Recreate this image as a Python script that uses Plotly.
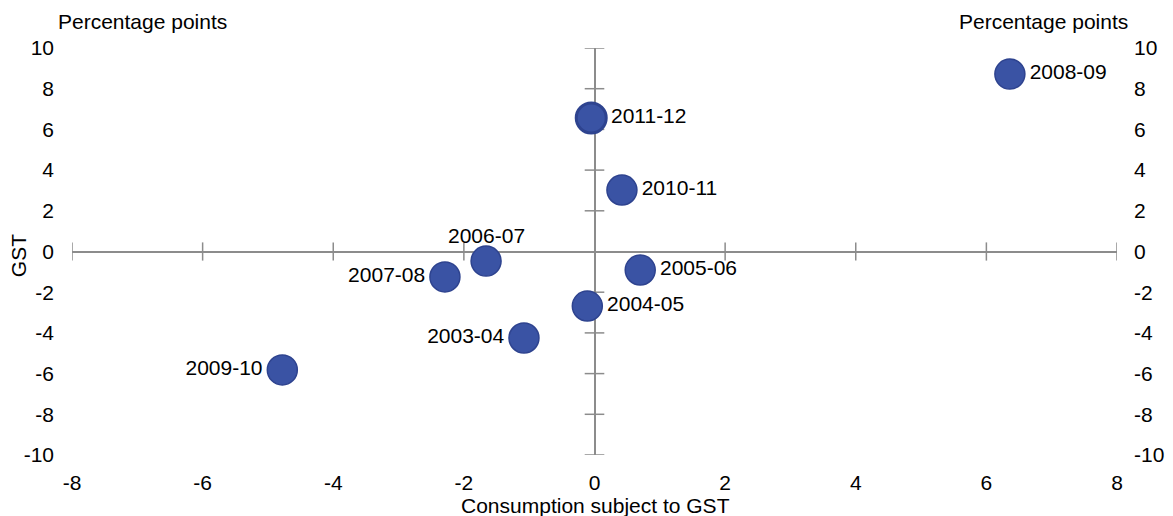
import plotly.graph_objects as go

years = ["2003-04", "2004-05", "2005-06", "2006-07", "2007-08", "2008-09", "2009-10", "2010-11", "2011-12"]
consumption = [-1.08, -0.11, 0.70, -1.66, -2.29, 6.36, -4.78, 0.42, -0.05]
gst = [-4.25, -2.68, -0.91, -0.47, -1.25, 8.72, -5.82, 3.02, 6.56]
label_pos = ["middle left", "middle right", "middle right", "top center", "middle left",
             "middle right", "middle left", "middle right", "middle right"]

x_ticks = [-8, -6, -4, -2, 0, 2, 4, 6, 8]
x_labels = ["-8", "-6", "-4", "-2", "0", "2", "4", "6", "8"]
y_ticks = [-10, -8, -6, -4, -2, 0, 2, 4, 6, 8, 10]
y_labels = ["-10", "-8", "-6", "-4", "-2", "0", "2", "4", "6", "8", "10"]

FONT = "Liberation Sans, Arial, sans-serif"
FS = 21
AXIS_COL = "#8c8c8c"

fig = go.Figure()

# crossing tick marks along the zero axes
xt = [v for v in x_ticks if v != 0]
yt = [v for v in y_ticks if v != 0]
fig.add_trace(go.Scatter(
    x=xt, y=[0] * len(xt), mode="markers",
    marker=dict(symbol="line-ns-open", size=13, color=AXIS_COL,
                line=dict(color=AXIS_COL, width=1.5)),
    hoverinfo="skip", showlegend=False))
fig.add_trace(go.Scatter(
    x=[0] * len(yt), y=yt, mode="markers",
    marker=dict(symbol="line-ew-open", size=14, color=AXIS_COL,
                line=dict(color=AXIS_COL, width=1.5)),
    hoverinfo="skip", showlegend=False))

# labels placed above a point are drawn as annotations to sit closer to the marker
trace_text = [t if p != "top center" else "" for t, p in zip(years, label_pos)]
border_w = [3 if y == "2011-12" else 1.5 for y in years]
fig.add_trace(go.Scatter(
    x=consumption, y=gst, mode="markers+text", text=trace_text, textposition=label_pos,
    textfont=dict(family=FONT, size=FS, color="#000000"),
    marker=dict(size=30, color="#3A53A4", line=dict(color="#2E438F", width=border_w)),
    showlegend=False))

# right-hand axis duplicate
fig.add_trace(go.Scatter(x=[None], y=[None], yaxis="y2", showlegend=False, hoverinfo="skip"))

annotations = [
    dict(text="Percentage points", xref="paper", yref="paper", x=-0.0155, y=1.0,
         xanchor="left", yanchor="bottom", yshift=13, showarrow=False,
         font=dict(family=FONT, size=FS)),
    dict(text="Percentage points", xref="paper", yref="paper", x=1.0125, y=1.0,
         xanchor="right", yanchor="bottom", yshift=13, showarrow=False,
         font=dict(family=FONT, size=FS)),
    dict(text="Consumption subject to GST", xref="paper", yref="paper", x=0.5005,
         y=-0.123, xanchor="center", yanchor="middle", showarrow=False,
         font=dict(family=FONT, size=FS)),
    dict(text="GST", xref="paper", yref="paper", x=-0.0517, y=0.491, textangle=-90,
         xanchor="center", yanchor="middle", showarrow=False,
         font=dict(family=FONT, size=FS)),
]
for t, xv, yv, p in zip(years, consumption, gst, label_pos):
    if p == "top center":
        annotations.append(dict(text=t, x=xv, y=yv, xref="x", yref="y", showarrow=False,
                                xanchor="center", yanchor="middle", yshift=26,
                                font=dict(family=FONT, size=FS, color="#000000")))

# the page adds an 8px body margin, so the figure is offset by 8px
fig.update_layout(
    width=1165, height=508,
    margin=dict(l=64, r=56, t=40, b=61),
    paper_bgcolor="white", plot_bgcolor="white",
    font=dict(family=FONT, size=FS, color="#000000"),
    xaxis=dict(range=[-8, 8], tickvals=x_ticks, ticktext=x_labels, showgrid=False,
               zeroline=True, zerolinecolor=AXIS_COL, zerolinewidth=2, showline=False,
               ticks="", ticklabelstandoff=13, automargin=False),
    yaxis=dict(range=[-10, 10], tickvals=y_ticks, ticktext=y_labels, showgrid=False,
               zeroline=True, zerolinecolor=AXIS_COL, zerolinewidth=2, showline=False,
               ticks="", ticklabelstandoff=17, automargin=False),
    yaxis2=dict(range=[-10, 10], tickvals=y_ticks, ticktext=y_labels, overlaying="y",
                side="right", showgrid=False, zeroline=False, showline=False, ticks="",
                ticklabelstandoff=16, automargin=False),
    annotations=annotations,
)

fig.write_html("out.html")
